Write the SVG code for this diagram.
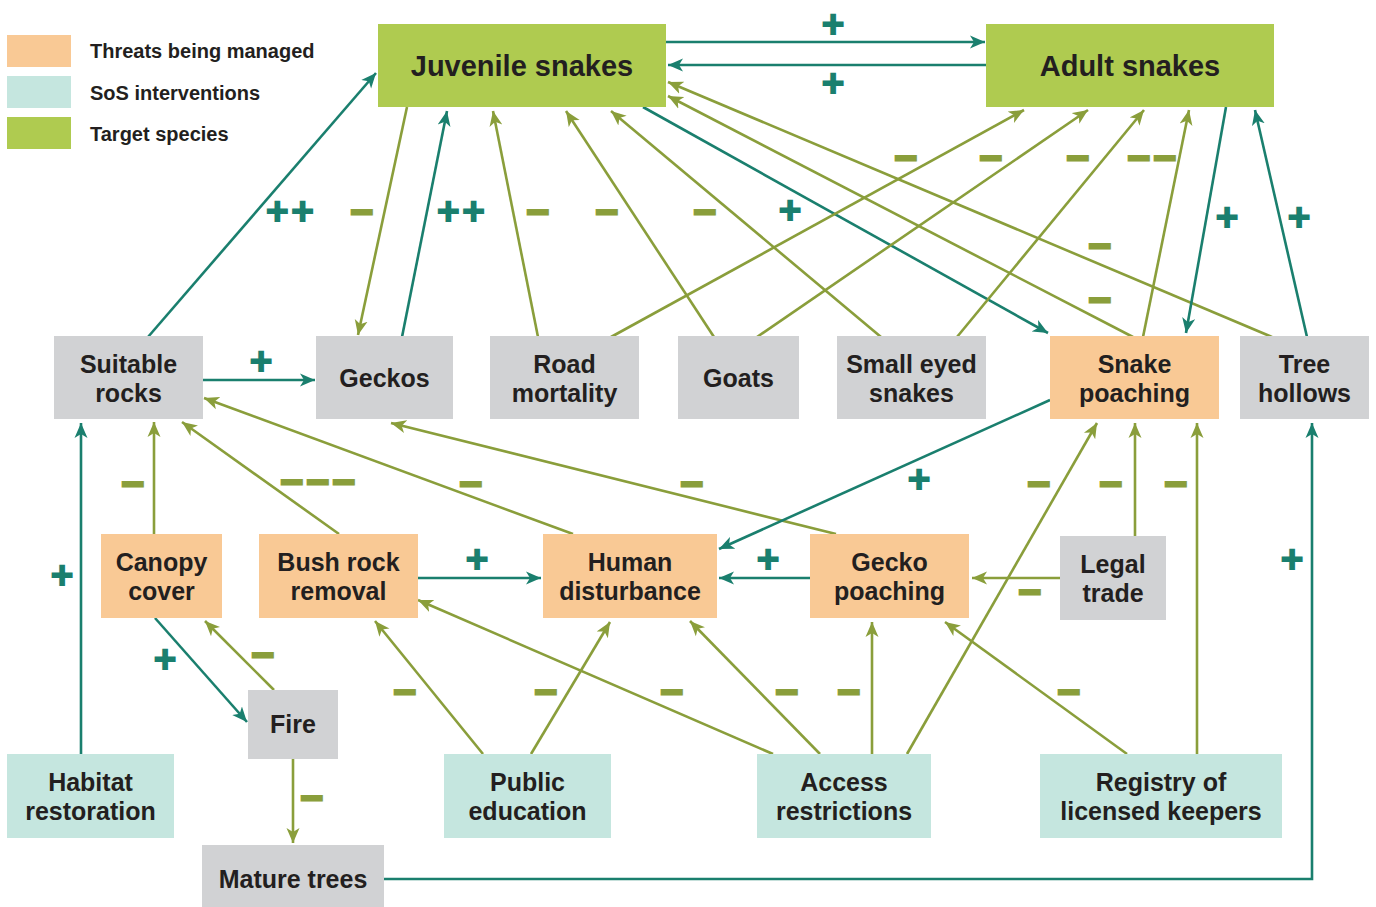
<svg xmlns="http://www.w3.org/2000/svg" width="1376" height="907" viewBox="0 0 1376 907">
<style>
.t{font-family:"Liberation Sans",Arial,sans-serif;font-weight:bold;fill:#231F20;text-anchor:middle;font-size:25px}
.lg{font-family:"Liberation Sans",Arial,sans-serif;font-weight:bold;fill:#231F20;font-size:20px}
.ti{font-family:"Liberation Sans",Arial,sans-serif;font-weight:bold;fill:#231F20;text-anchor:middle;font-size:29px}
.thr{fill:#F9C995}.sos{fill:#C5E6DF}.tgt{fill:#AFCB50}.oth{fill:#D1D2D4}
.ct{stroke:#1A7F6E;stroke-width:2.6;fill:none;marker-end:url(#at)}
.co{stroke:#8A9E3B;stroke-width:2.6;fill:none;marker-end:url(#ao)}
.p{font-family:"DejaVu Sans",sans-serif;font-weight:bold;font-size:30px;fill:#1A7F6E;stroke:#1A7F6E;stroke-width:2.2;text-anchor:middle}
.m{font-family:"DejaVu Sans",sans-serif;font-weight:bold;font-size:31px;fill:#8A9E3B;stroke:#8A9E3B;stroke-width:2.8;text-anchor:middle}
</style>
<defs>
<marker id="at" markerUnits="userSpaceOnUse" markerWidth="16" markerHeight="14" viewBox="0 0 16 14" refX="15" refY="7" orient="auto"><path d="M15,7 L0,0.5 L4,7 L0,13.5 Z" fill="#1A7F6E"/></marker>
<marker id="ao" markerUnits="userSpaceOnUse" markerWidth="16" markerHeight="14" viewBox="0 0 16 14" refX="15" refY="7" orient="auto"><path d="M15,7 L0,0.5 L4,7 L0,13.5 Z" fill="#8A9E3B"/></marker>
</defs>
<rect width="1376" height="907" fill="#ffffff"/>
<g id="legend">
<rect class="thr" x="7" y="35" width="64" height="32"/>
<rect class="sos" x="7" y="76" width="64" height="32"/>
<rect class="tgt" x="7" y="117" width="64" height="32"/>
<text class="lg" x="90" y="58">Threats being managed</text>
<text class="lg" x="90" y="100">SoS interventions</text>
<text class="lg" x="90" y="141">Target species</text>
</g>
<g id="connectors">
<path class="ct" d="M666,42 L985,42"/>
<path class="ct" d="M986,65 L668,65"/>
<path class="ct" d="M148,337 L376,73"/>
<path class="co" d="M407,107 L358,335"/>
<path class="ct" d="M402,337 L447,111"/>
<path class="co" d="M538,337 L493,111"/>
<path class="co" d="M714,337 L566,111"/>
<path class="co" d="M881,337 L611,111"/>
<path class="ct" d="M643,107 L1048,333"/>
<path class="co" d="M1133,337 L668,96"/>
<path class="co" d="M1272,337 L668,82"/>
<path class="co" d="M611,337 L1024,110"/>
<path class="co" d="M757,337 L1088,110"/>
<path class="co" d="M957,337 L1144,110"/>
<path class="co" d="M1143,337 L1189,110"/>
<path class="ct" d="M1226,107 L1186,333"/>
<path class="ct" d="M1307,337 L1255,110"/>
<path class="ct" d="M203,380 L315,380"/>
<path class="co" d="M154,534 L154,422"/>
<path class="co" d="M339,534 L182,422"/>
<path class="co" d="M573,534 L204,398"/>
<path class="co" d="M836,534 L391,423"/>
<path class="ct" d="M1050,400 L719,549"/>
<path class="ct" d="M418,578 L541,578"/>
<path class="ct" d="M810,578 L719,578"/>
<path class="co" d="M1060,578 L972,578"/>
<path class="co" d="M1135,536 L1135,423"/>
<path class="co" d="M907,754 L1097,423"/>
<path class="co" d="M1197,754 L1197,423"/>
<path class="ct" d="M155,618 L247,722"/>
<path class="co" d="M274,690 L205,621"/>
<path class="co" d="M293,759 L293,843"/>
<path class="ct" d="M384,879 H1312 V423"/>
<path class="ct" d="M81,754 L81,423"/>
<path class="co" d="M483,754 L375,621"/>
<path class="co" d="M531,754 L610,622"/>
<path class="co" d="M773,754 L418,600"/>
<path class="co" d="M820,754 L690,621"/>
<path class="co" d="M872,754 L872,622"/>
<path class="co" d="M1127,754 L945,622"/>
</g>
<g id="labels">
<text class="p" x="833" y="34">+</text>
<text class="p" x="833" y="93">+</text>
<text class="p" x="290" y="221">++</text>
<text class="m" x="362" y="222">−</text>
<text class="p" x="461" y="221">++</text>
<text class="m" x="538" y="222">−</text>
<text class="m" x="607" y="222">−</text>
<text class="m" x="705" y="222">−</text>
<text class="p" x="790" y="220">+</text>
<text class="m" x="906" y="168">−</text>
<text class="m" x="991" y="168">−</text>
<text class="m" x="1078" y="168">−</text>
<text class="m" x="1152" y="168">−−</text>
<text class="m" x="1100" y="256">−</text>
<text class="m" x="1100" y="310">−</text>
<text class="p" x="1227" y="227">+</text>
<text class="p" x="1299" y="227">+</text>
<text class="p" x="261" y="371">+</text>
<text class="m" x="133" y="494">−</text>
<text class="m" x="318" y="492">−−−</text>
<text class="m" x="471" y="494">−</text>
<text class="m" x="692" y="494">−</text>
<text class="p" x="919" y="489">+</text>
<text class="m" x="1039" y="494">−</text>
<text class="m" x="1111" y="494">−</text>
<text class="m" x="1176" y="494">−</text>
<text class="p" x="477" y="569">+</text>
<text class="p" x="768" y="569">+</text>
<text class="m" x="1030" y="602">−</text>
<text class="p" x="62" y="585">+</text>
<text class="p" x="1292" y="569">+</text>
<text class="p" x="165" y="669">+</text>
<text class="m" x="263" y="665">−</text>
<text class="m" x="312" y="808">−</text>
<text class="m" x="405" y="702">−</text>
<text class="m" x="546" y="702">−</text>
<text class="m" x="672" y="702">−</text>
<text class="m" x="787" y="702">−</text>
<text class="m" x="849" y="702">−</text>
<text class="m" x="1069" y="702">−</text>
</g>
<g id="juvenile-snakes"><rect class="tgt" x="378" y="24" width="288" height="83"/><text class="ti" x="522" y="76">Juvenile snakes</text></g>
<g id="adult-snakes"><rect class="tgt" x="986" y="24" width="288" height="83"/><text class="ti" x="1130" y="76">Adult snakes</text></g>
<g id="suitable-rocks"><rect class="oth" x="54" y="336" width="149" height="83"/><text class="t" x="128.5" y="373">Suitable</text><text class="t" x="128.5" y="402">rocks</text></g>
<g id="geckos"><rect class="oth" x="316" y="336" width="137" height="83"/><text class="t" x="384.5" y="387">Geckos</text></g>
<g id="road-mortality"><rect class="oth" x="490" y="336" width="149" height="83"/><text class="t" x="564.5" y="373">Road</text><text class="t" x="564.5" y="402">mortality</text></g>
<g id="goats"><rect class="oth" x="678" y="336" width="121" height="83"/><text class="t" x="738.5" y="387">Goats</text></g>
<g id="small-eyed-snakes"><rect class="oth" x="837" y="336" width="149" height="83"/><text class="t" x="911.5" y="373">Small eyed</text><text class="t" x="911.5" y="402">snakes</text></g>
<g id="snake-poaching"><rect class="thr" x="1050" y="336" width="169" height="83"/><text class="t" x="1134.5" y="373">Snake</text><text class="t" x="1134.5" y="402">poaching</text></g>
<g id="tree-hollows"><rect class="oth" x="1240" y="336" width="129" height="83"/><text class="t" x="1304.5" y="373">Tree</text><text class="t" x="1304.5" y="402">hollows</text></g>
<g id="canopy-cover"><rect class="thr" x="101" y="534" width="121" height="84"/><text class="t" x="161.5" y="571">Canopy</text><text class="t" x="161.5" y="600">cover</text></g>
<g id="bush-rock-removal"><rect class="thr" x="259" y="534" width="159" height="84"/><text class="t" x="338.5" y="571">Bush rock</text><text class="t" x="338.5" y="600">removal</text></g>
<g id="human-disturbance"><rect class="thr" x="543" y="534" width="174" height="84"/><text class="t" x="630" y="571">Human</text><text class="t" x="630" y="600">disturbance</text></g>
<g id="gecko-poaching"><rect class="thr" x="810" y="534" width="159" height="84"/><text class="t" x="889.5" y="571">Gecko</text><text class="t" x="889.5" y="600">poaching</text></g>
<g id="legal-trade"><rect class="oth" x="1060" y="536" width="106" height="84"/><text class="t" x="1113" y="573">Legal</text><text class="t" x="1113" y="602">trade</text></g>
<g id="fire"><rect class="oth" x="248" y="690" width="90" height="69"/><text class="t" x="293" y="733">Fire</text></g>
<g id="mature-trees"><rect class="oth" x="202" y="845" width="182" height="62"/><text class="t" x="293" y="888">Mature trees</text></g>
<g id="habitat-restoration"><rect class="sos" x="7" y="754" width="167" height="84"/><text class="t" x="90.5" y="791">Habitat</text><text class="t" x="90.5" y="820">restoration</text></g>
<g id="public-education"><rect class="sos" x="444" y="754" width="167" height="84"/><text class="t" x="527.5" y="791">Public</text><text class="t" x="527.5" y="820">education</text></g>
<g id="access-restrictions"><rect class="sos" x="757" y="754" width="174" height="84"/><text class="t" x="844" y="791">Access</text><text class="t" x="844" y="820">restrictions</text></g>
<g id="registry"><rect class="sos" x="1040" y="754" width="242" height="84"/><text class="t" x="1161" y="791">Registry of</text><text class="t" x="1161" y="820">licensed keepers</text></g>
</svg>
